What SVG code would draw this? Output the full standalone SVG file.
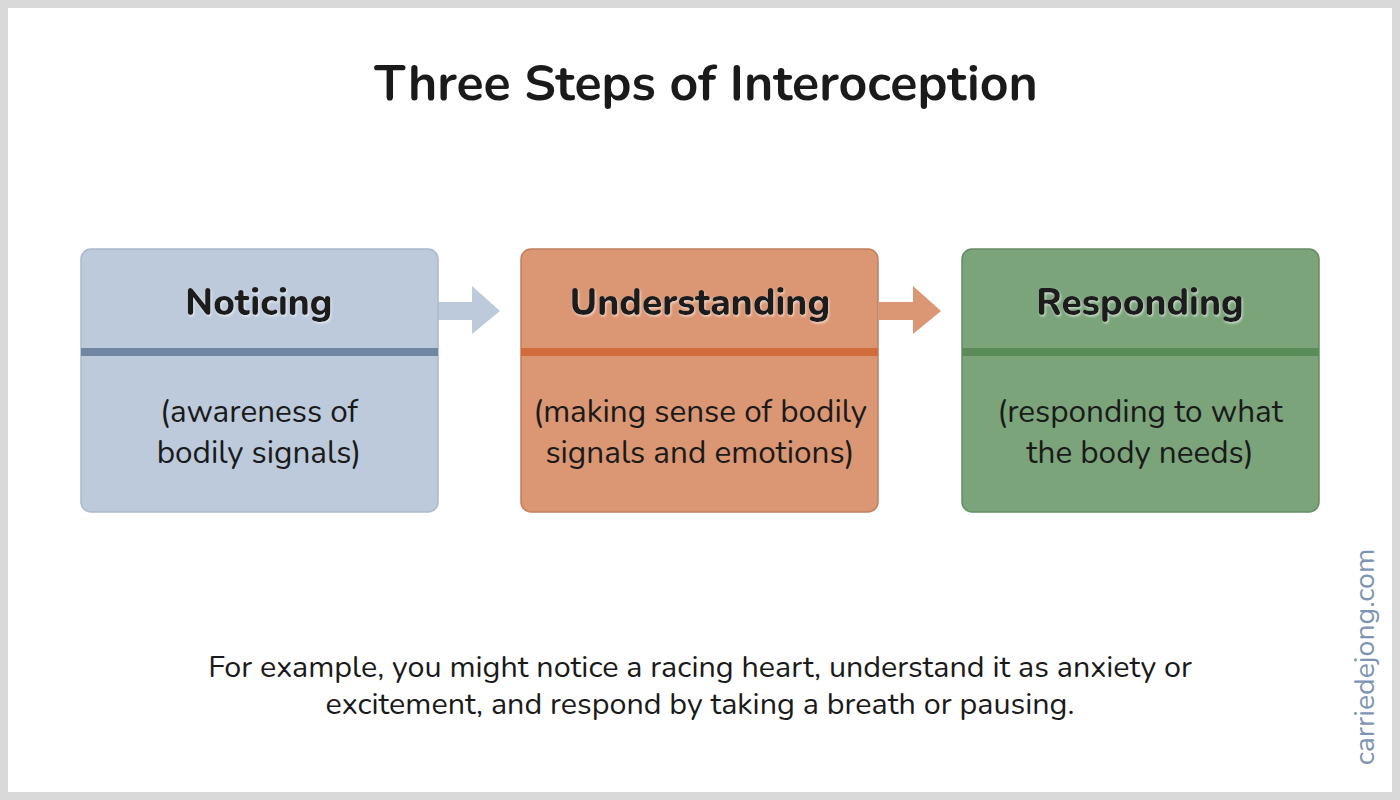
<svg xmlns="http://www.w3.org/2000/svg" width="1400" height="800" viewBox="0 0 1400 800">
<defs>
<filter id="sh" x="-10%" y="-10%" width="120%" height="130%"><feDropShadow dx="1" dy="1.5" stdDeviation="0.8" flood-color="#ffffff" flood-opacity="0.6"/></filter>
</defs>
<style>
text{font-family:Nunito,"Noto Sans",Lato,sans-serif;text-anchor:middle;fill:#1a1a1a}
.h{font-size:37px;font-weight:800}
.b{font-size:31.5px}
</style>
<rect x="0" y="0" width="1400" height="800" fill="#d9d9d9"/>
<rect x="8" y="8" width="1384" height="784" fill="#ffffff"/>
<text x="706" y="100" style="font-size:50px;font-weight:bold">Three Steps of Interoception</text>
<g id="connectors">
<polygon points="438,302 472,302 472,286 500,311 472,334 472,320 438,320" fill="#bccadb"/>
<polygon points="879,302 913,302 913,286 941,311 913,334 913,320 879,320" fill="#db9674"/>
</g>
<g id="noticing">
<rect x="81" y="249" width="357" height="263" rx="10" fill="#bccadb" stroke="#a9b9cc" stroke-width="1.5"/>
<rect x="81" y="348" width="357" height="8" fill="#6f87a3"/>
<text class="h" x="259" y="315" filter="url(#sh)">Noticing</text>
<text class="b" x="259" y="422">(awareness of</text>
<text class="b" x="259" y="463">bodily signals)</text>
</g>
<g id="understanding">
<rect x="521" y="249" width="357" height="263" rx="10" fill="#db9674" stroke="#c07f60" stroke-width="1.5"/>
<rect x="521" y="348" width="357" height="8" fill="#d06c3c"/>
<text class="h" x="700" y="315" filter="url(#sh)">Understanding</text>
<text class="b" x="700" y="422">(making sense of bodily</text>
<text class="b" x="700" y="463">signals and emotions)</text>
</g>
<g id="responding">
<rect x="962" y="249" width="357" height="263" rx="10" fill="#7ba47b" stroke="#658c65" stroke-width="1.5"/>
<rect x="962" y="348" width="357" height="8" fill="#5a8c5a"/>
<text class="h" x="1140" y="315" filter="url(#sh)">Responding</text>
<text class="b" x="1140" y="422">(responding to what</text>
<text class="b" x="1140" y="463">the body needs)</text>
</g>
<text x="700" y="677" style="font-size:30.5px">For example, you might notice a racing heart, understand it as anxiety or</text>
<text x="700" y="714" style="font-size:30.5px">excitement, and respond by taking a breath or pausing.</text>
<text transform="translate(1374,657) rotate(-90)" style="font-size:28.5px;fill:#7d94b3">carriedejong.com</text>
</svg>
